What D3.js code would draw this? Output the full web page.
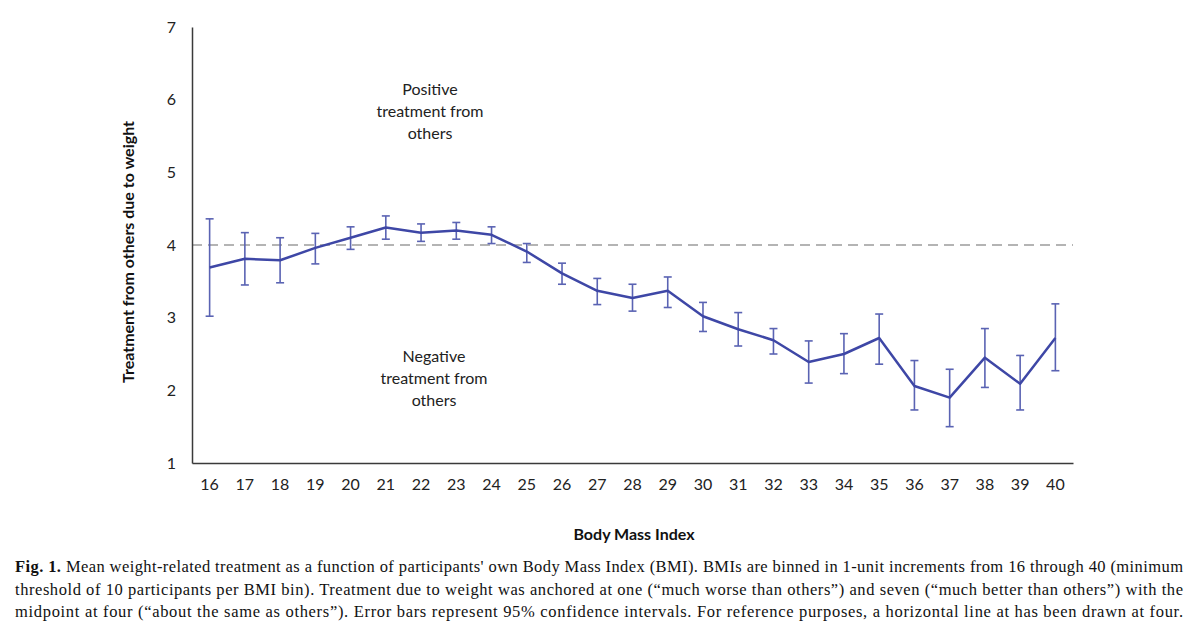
<!DOCTYPE html>
<html>
<head>
<meta charset="utf-8">
<script src="https://cdn.jsdelivr.net/npm/d3@7"></script>
<style>
  html, body { margin: 0; padding: 0; background: #fff; }
  svg { display: block; }
</style>
</head>
<body>
<svg id="chart" width="1200" height="635"></svg>
<script>
const bmi = [16,17,18,19,20,21,22,23,24,25,26,27,28,29,30,31,32,33,34,35,36,37,38,39,40];
const meanTreatment = [3.69,3.81,3.79,3.96,4.10,4.24,4.17,4.20,4.14,3.91,3.61,3.37,3.27,3.37,3.02,2.84,2.69,2.39,2.50,2.72,2.06,1.90,2.45,2.09,2.72];
const ciUpper = [4.36,4.17,4.10,4.16,4.25,4.40,4.29,4.31,4.25,4.02,3.75,3.54,3.46,3.56,3.21,3.07,2.85,2.68,2.78,3.05,2.41,2.29,2.85,2.48,3.19];
const ciLower = [3.02,3.45,3.48,3.74,3.94,4.08,4.05,4.08,4.02,3.76,3.46,3.18,3.09,3.14,2.81,2.61,2.50,2.10,2.23,2.36,1.73,1.50,2.04,1.73,2.27];
const yTicks = [1,2,3,4,5,6,7];
const referenceLine = 4;
const positiveLabel = ["Positive", "treatment from", "others"];
const negativeLabel = ["Negative", "treatment from", "others"];
const yTitle = "Treatment from others due to weight";
const xTitle = "Body Mass Index";
const captionLines = [
  ["Fig. 1.", " Mean weight-related treatment as a function of participants' own Body Mass Index (BMI). BMIs are binned in 1-unit increments from 16 through 40 (minimum"],
  ["", "threshold of 10 participants per BMI bin). Treatment due to weight was anchored at one (\u201cmuch worse than others\u201d) and seven (\u201cmuch better than others\u201d) with the"],
  ["", "midpoint at four (\u201cabout the same as others\u201d). Error bars represent 95% confidence intervals. For reference purposes, a horizontal line at has been drawn at four."]
];

(function () {
const svg = d3.select("#chart");
const chartFont = "Lato, 'Open Sans', sans-serif";
const pLeft = 192, pRight = 1073, pTop = 27, pBottom = 463;

const x = d3.scaleBand().domain(bmi).range([pLeft, pRight]).padding(0);
const y = d3.scaleLinear().domain([1, 7]).range([pBottom, pTop]);
const cx = d => x(d) + x.bandwidth() / 2;

const data = bmi.map((b, i) => ({b, m: meanTreatment[i], hi: ciUpper[i], lo: ciLower[i]}));

// Reference dashed line
svg.append("line")
  .attr("x1", pLeft).attr("x2", pRight)
  .attr("y1", y(referenceLine)).attr("y2", y(referenceLine))
  .attr("stroke", "#b4b4b4").attr("stroke-width", 2)
  .attr("stroke-dasharray", "10,6");

// Axes
const yAxis = d3.axisLeft(y).tickValues(yTicks).tickSize(0).tickPadding(16).tickFormat(d3.format("d"));
const gy = svg.append("g").attr("transform", `translate(${pLeft},0)`).call(yAxis);
gy.select(".domain").attr("stroke", "#3a3a3a").attr("stroke-width", 1.5);
gy.selectAll("text").attr("font-family", chartFont).attr("font-size", 16).attr("fill", "#222");

const xAxis = d3.axisBottom(x).tickSize(0).tickPadding(16);
const gx = svg.append("g").attr("transform", `translate(0,${pBottom})`).call(xAxis);
gx.select(".domain").attr("stroke", "#3a3a3a").attr("stroke-width", 1.5);
gx.selectAll("text").attr("font-family", chartFont).attr("font-size", 16).attr("fill", "#222");

// Error bars
const eb = svg.append("g").attr("stroke", "#5a63b3").attr("stroke-width", 1.6);
data.forEach(d => {
  eb.append("line").attr("x1", cx(d.b)).attr("x2", cx(d.b)).attr("y1", y(d.hi)).attr("y2", y(d.lo));
  eb.append("line").attr("x1", cx(d.b) - 4).attr("x2", cx(d.b) + 4).attr("y1", y(d.hi)).attr("y2", y(d.hi));
  eb.append("line").attr("x1", cx(d.b) - 4).attr("x2", cx(d.b) + 4).attr("y1", y(d.lo)).attr("y2", y(d.lo));
});

// Mean line
svg.append("path")
  .datum(data)
  .attr("fill", "none")
  .attr("stroke", "#3e47a6")
  .attr("stroke-width", 2.5)
  .attr("stroke-linejoin", "round")
  .attr("d", d3.line().x(d => cx(d.b)).y(d => y(d.m)));

// Annotations
function block(lines, xc, y0) {
  const t = svg.append("text").attr("font-family", chartFont).attr("font-size", 16)
    .attr("fill", "#222").attr("text-anchor", "middle");
  lines.forEach((s, i) => t.append("tspan").attr("x", xc).attr("y", y0 + i * 22).text(s));
}
block(positiveLabel, 430, 95);
block(negativeLabel, 434, 362);

// Axis titles
svg.append("text")
  .attr("transform", `translate(134,252) rotate(-90)`)
  .attr("text-anchor", "middle")
  .attr("font-family", chartFont).attr("font-size", 16).attr("font-weight", "bold").attr("fill", "#111")
  .text(yTitle);

svg.append("text")
  .attr("x", 634).attr("y", 540)
  .attr("text-anchor", "middle")
  .attr("font-family", chartFont).attr("font-size", 16).attr("font-weight", "bold").attr("fill", "#111")
  .text(xTitle);

// Caption
captionLines.forEach((ln, i) => {
  const t = svg.append("text")
    .attr("x", 15).attr("y", 572 + i * 22.5)
    .attr("font-family", "'Liberation Serif', 'DejaVu Serif', serif")
    .attr("font-size", 16.5).attr("fill", "#111")
    .attr("textLength", 1168).attr("lengthAdjust", "spacing");
  if (ln[0]) t.append("tspan").attr("font-weight", "bold").text(ln[0]);
  t.append("tspan").text(ln[1]);
});
})();
</script>
</body>
</html>
